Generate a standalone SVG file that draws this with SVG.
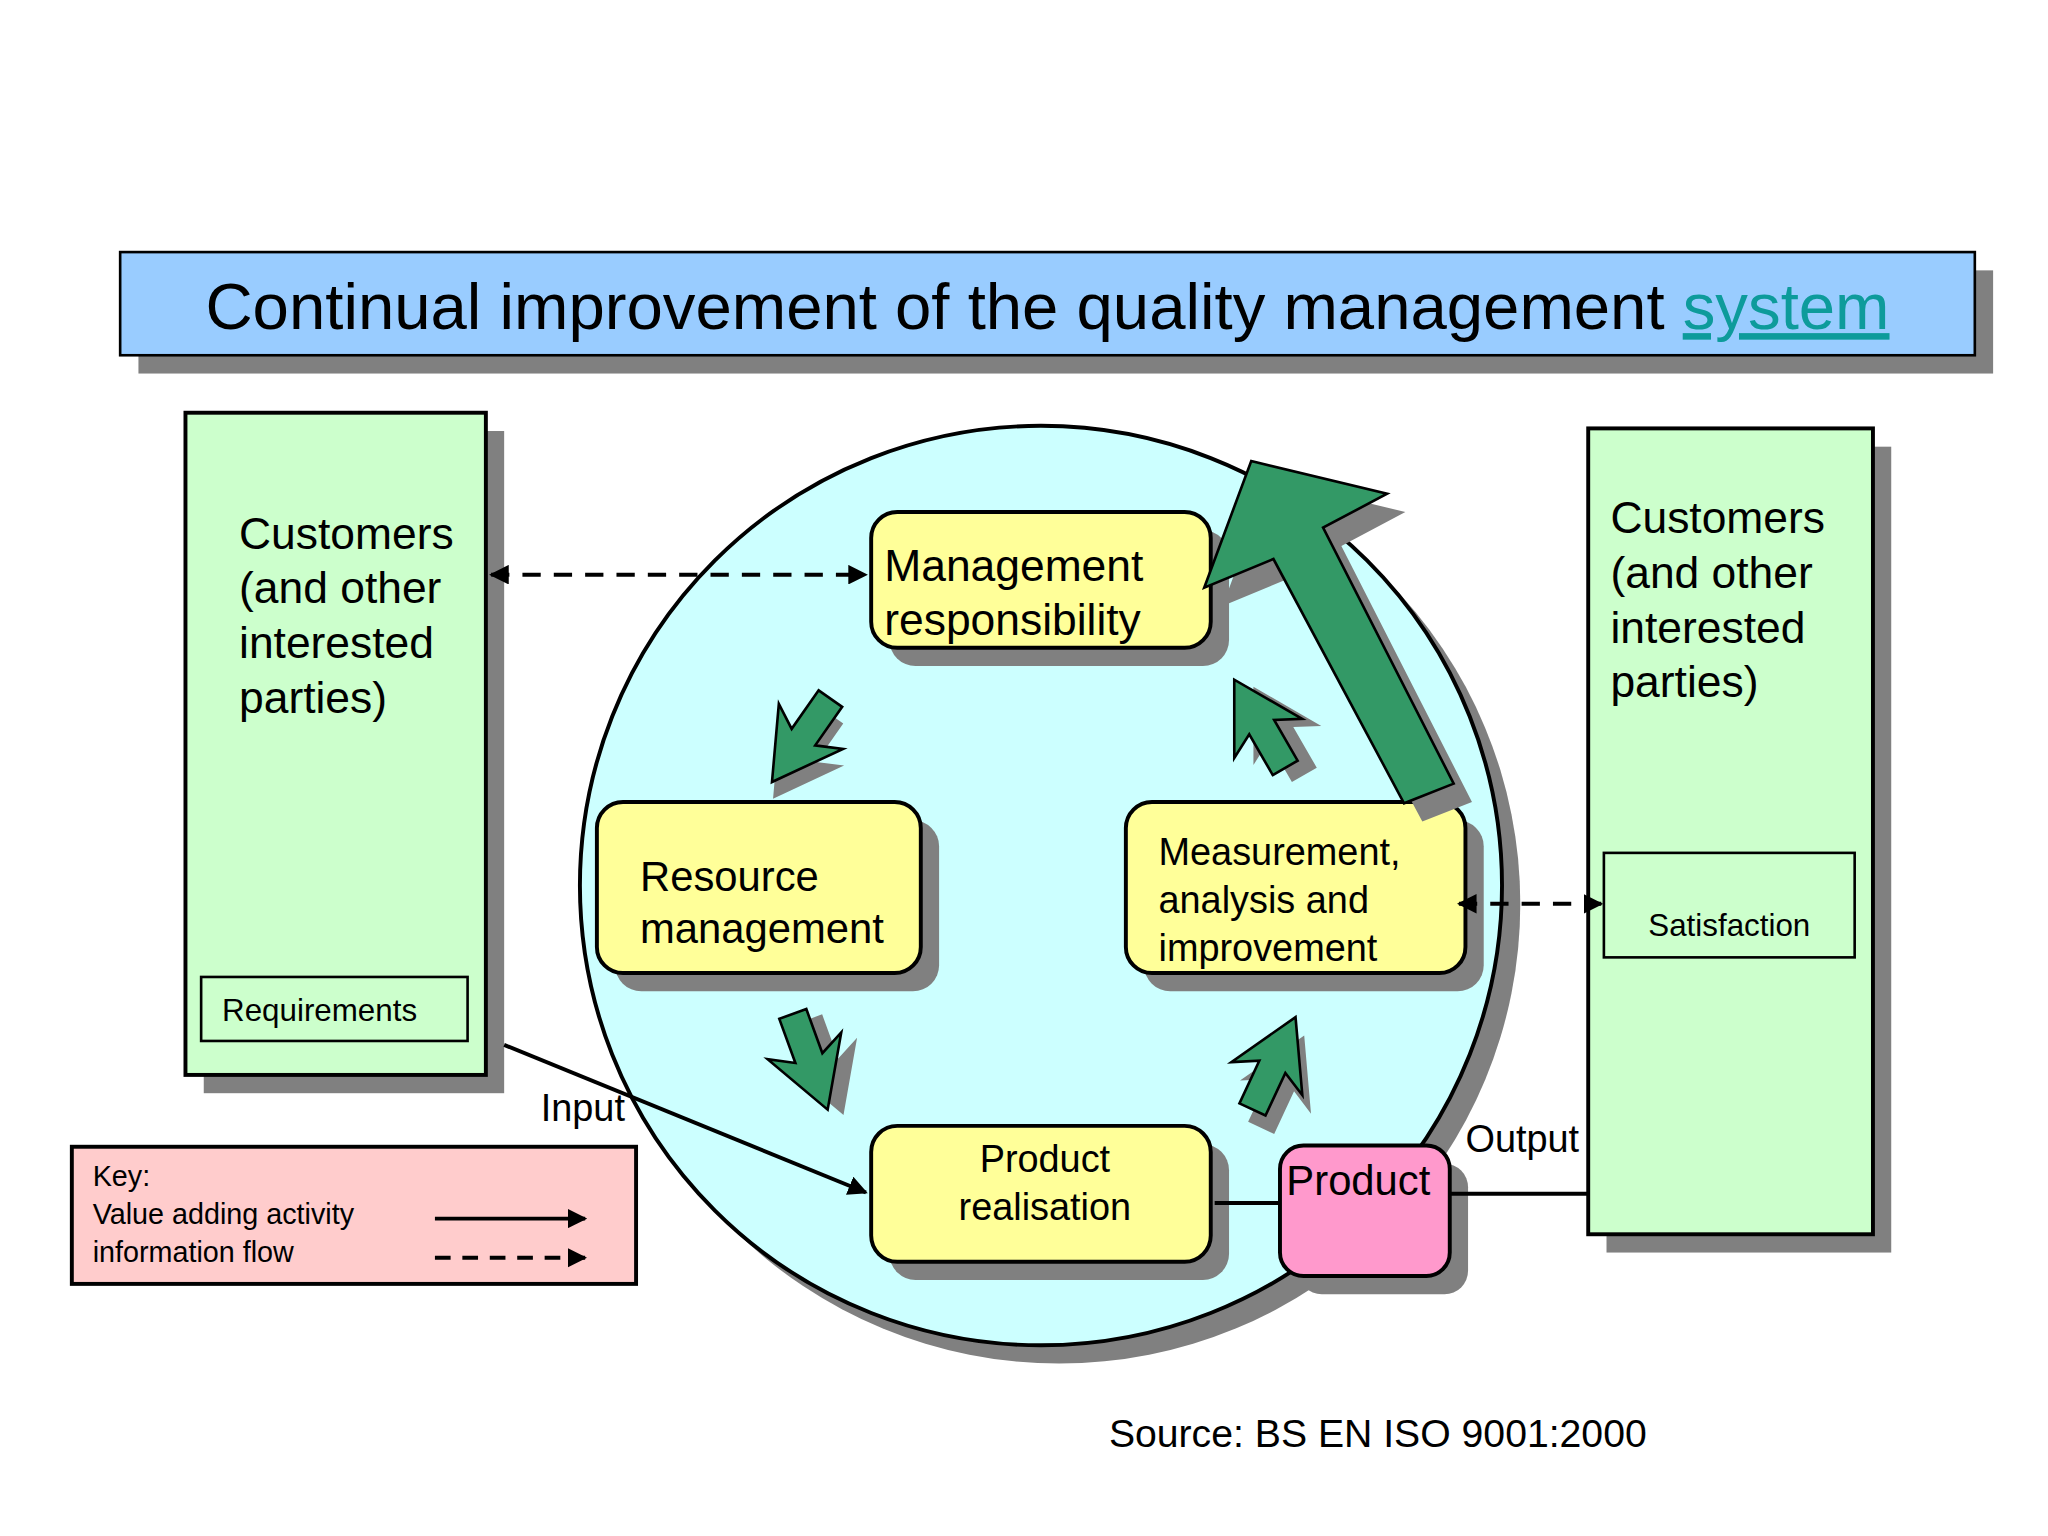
<svg xmlns="http://www.w3.org/2000/svg" width="2048" height="1536" viewBox="0 0 2048 1536">
<defs>
<style>
text{font-family:"Liberation Sans",Arial,sans-serif;fill:#000}
.sh{fill:#808080}
.k{stroke:#000;stroke-width:3}
.g{fill:#339966;stroke:#000;stroke-width:2}
.ln{stroke:#000;stroke-width:3;fill:none}
.d{stroke-dasharray:14 10}
</style>
<marker id="ah" viewBox="0 0 10 10" refX="9" refY="5" markerWidth="5" markerHeight="5" orient="auto-start-reverse"><path d="M0,0L10,5L0,10z" fill="#000"/></marker>
<polygon id="sa" points="-11,38 11,38 11,2 30,12 0,-40 -30,12 -11,2"/>
</defs>
<rect width="2048" height="1536" fill="#fff"/>
<g transform="scale(1.3061)">
<g id="title">
<rect class="sh" x="106" y="207" width="1420" height="79"/>
<rect x="92" y="193" width="1420" height="79" fill="#99ccff" stroke="#000" stroke-width="2"/>
<text x="802" y="252" font-size="50" text-anchor="middle">Continual improvement of the quality management <tspan fill="#0d9b9b" text-decoration="underline">system</tspan></text>
</g>
<g id="circle">
<ellipse class="sh" cx="811" cy="692" rx="353" ry="352"/>
<ellipse cx="797" cy="678" rx="353" ry="352" fill="#ccffff" class="k"/>
</g>
<g id="customersLeft">
<rect class="sh" x="156" y="330" width="230" height="507"/>
<rect x="142" y="316" width="230" height="507" fill="#ccffcc" class="k"/>
<text font-size="34"><tspan x="183" y="420">Customers</tspan><tspan x="183" y="462">(and other</tspan><tspan x="183" y="504">interested</tspan><tspan x="183" y="546">parties)</tspan></text>
<rect x="154" y="748" width="204" height="49" fill="none" stroke="#000" stroke-width="2"/>
<text x="170" y="782" font-size="24">Requirements</text>
</g>
<g id="customersRight">
<rect class="sh" x="1230" y="342" width="218" height="617"/>
<rect x="1216" y="328" width="218" height="617" fill="#ccffcc" class="k"/>
<text font-size="34"><tspan x="1233" y="408">Customers</tspan><tspan x="1233" y="450">(and other</tspan><tspan x="1233" y="492">interested</tspan><tspan x="1233" y="534">parties)</tspan></text>
<rect x="1228" y="653" width="192" height="80" fill="none" stroke="#000" stroke-width="2"/>
<text x="1324" y="717" font-size="24" text-anchor="middle">Satisfaction</text>
</g>
<g id="mgmt">
<rect class="sh" x="681" y="406" width="260" height="104" rx="20"/>
<rect x="667" y="392" width="260" height="104" rx="20" fill="#ffff99" class="k" stroke-width="2"/>
<text font-size="34"><tspan x="677" y="445">Management</tspan><tspan x="677" y="486">responsibility</tspan></text>
</g>
<g id="resource">
<rect class="sh" x="471" y="628" width="248" height="131" rx="20"/>
<rect x="457" y="614" width="248" height="131" rx="20" fill="#ffff99" class="k" stroke-width="2"/>
<text font-size="32"><tspan x="490" y="682">Resource</tspan><tspan x="490" y="722">management</tspan></text>
</g>
<g id="measure">
<rect class="sh" x="876" y="628" width="260" height="131" rx="20"/>
<rect x="862" y="614" width="260" height="131" rx="20" fill="#ffff99" class="k" stroke-width="2"/>
<text font-size="29"><tspan x="887" y="662">Measurement,</tspan><tspan x="887" y="699">analysis and</tspan><tspan x="887" y="736">improvement</tspan></text>
</g>
<g id="realisation">
<rect class="sh" x="681" y="876" width="260" height="104" rx="20"/>
<rect x="667" y="862" width="260" height="104" rx="20" fill="#ffff99" class="k" stroke-width="2"/>
<text font-size="29" text-anchor="middle"><tspan x="800" y="897">Product</tspan><tspan x="800" y="934">realisation</tspan></text>
</g>
<g id="product">
<rect class="sh" x="994" y="891" width="130" height="100" rx="18"/>
<rect x="980" y="877" width="130" height="100" rx="18" fill="#ff99cc" class="k" stroke-width="2"/>
<text x="1040" y="915" font-size="32" text-anchor="middle">Product</text>
</g>
<g id="arrows">
<polygon class="sh" points="1127,614 1089,629 989,442 936,464 972,367 1076,392 1027,418"/>
<polygon class="g" points="1113,600 1075,615 975,428 922,450 958,353 1062,378 1013,404"/>
<g transform="translate(614,566) rotate(-145)"><use href="#sa" class="sh" transform="translate(-8,-10)"/><use href="#sa" class="g"/></g>
<g transform="translate(620,812) rotate(160)"><use href="#sa" class="sh" transform="translate(-10,-8)"/><use href="#sa" class="g"/></g>
<g transform="translate(975,815) rotate(25)"><use href="#sa" class="sh" transform="translate(12,10)"/><use href="#sa" class="g"/></g>
<g transform="translate(965,555) rotate(-30)"><use href="#sa" class="sh" transform="translate(10,12)"/><use href="#sa" class="g"/></g>
</g>
<g id="connectors">
<line class="ln d" x1="376" y1="440" x2="663" y2="440" marker-start="url(#ah)" marker-end="url(#ah)"/>
<line class="ln d" x1="1117" y1="692" x2="1226" y2="692" marker-start="url(#ah)" marker-end="url(#ah)"/>
<line class="ln" x1="386" y1="800" x2="663" y2="913" marker-end="url(#ah)"/>
<line class="ln" x1="930" y1="921" x2="980" y2="921"/>
<line class="ln" x1="1110" y1="914" x2="1216" y2="914"/>
<text x="414" y="858" font-size="29">Input</text>
<text x="1122" y="882" font-size="29">Output</text>
</g>
<g id="key">
<rect x="55" y="878" width="432" height="105" fill="#ffcccc" class="k"/>
<text font-size="22"><tspan x="71" y="908">Key:</tspan><tspan x="71" y="937">Value adding activity</tspan><tspan x="71" y="966">information flow</tspan></text>
<line class="ln" x1="333" y1="933" x2="448" y2="933" marker-end="url(#ah)"/>
<line class="ln d" x1="333" y1="963" x2="448" y2="963" marker-end="url(#ah)" style="stroke-dasharray:12 9"/>
</g>
<text x="849" y="1108" font-size="30" font-family="DejaVu Sans Condensed,Liberation Sans Narrow,sans-serif">Source: BS EN ISO 9001:2000</text>
</g>
</svg>
